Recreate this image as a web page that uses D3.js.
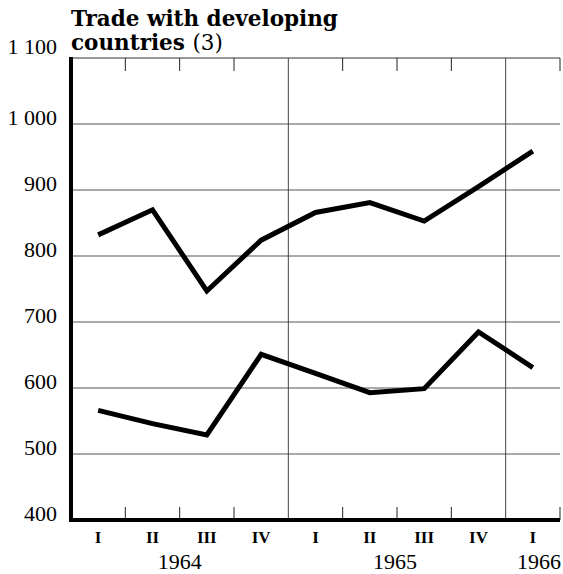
<!DOCTYPE html>
<html>
<head>
<meta charset="utf-8">
<script src="https://cdn.jsdelivr.net/npm/d3@7"></script>
<style>
  body { margin: 0; background: #fff; }
  text { font-family: "Liberation Serif", "Times New Roman", serif; fill: #000; }
</style>
</head>
<body>
<div id="chart"></div>
<script>
// quarters, 1964 I .. 1966 I
var quarterKeys = ["1964-I", "1964-II", "1964-III", "1964-IV", "1965-I", "1965-II", "1965-III", "1965-IV", "1966-I"];
var quarterLabels = ["I", "II", "III", "IV", "I", "II", "III", "IV", "I"];
var yearLabels = ["1964", "1965", "1966"];

// two series
var upperSeries = [832, 870, 747, 824, 866, 881, 853, 905, 959];
var lowerSeries = [566, 546, 529, 651, 622, 593, 599, 685, 631];

var yTicks = [400, 500, 600, 700, 800, 900, 1000, 1100];

var W = 563, H = 574;
var margin = { top: 58, right: 3, bottom: 54, left: 71 };

var svg = d3.select("#chart").append("svg")
    .attr("width", W)
    .attr("height", H);

var x = d3.scaleBand().domain(quarterKeys).range([margin.left, W - margin.right]).padding(0);
var y = d3.scaleLinear().domain([400, 1100]).range([H - margin.bottom, margin.top]);

var x0 = margin.left, x1 = W - margin.right;
var yTop = y(1100), yBot = y(400);

// horizontal grid
svg.append("g").selectAll("line")
    .data(yTicks.filter(function(d) { return d > 400 && d < 1100; }))
    .join("line")
    .attr("x1", x0).attr("x2", x1)
    .attr("y1", function(d) { return y(d); })
    .attr("y2", function(d) { return y(d); })
    .attr("stroke", "#555")
    .attr("stroke-width", 1);

// top border
svg.append("line")
    .attr("x1", x0).attr("x2", x1)
    .attr("y1", yTop).attr("y2", yTop)
    .attr("stroke", "#333").attr("stroke-width", 1);

// quarter boundaries: short ticks, full lines at year starts
var boundaries = quarterKeys.slice(1).map(function(k) { return x(k); }).concat([x1]);
var yearStarts = ["1965-I", "1966-I"].map(function(k) { return x(k); });

svg.append("g").selectAll("line")
    .data(yearStarts)
    .join("line")
    .attr("x1", function(d) { return d; }).attr("x2", function(d) { return d; })
    .attr("y1", yTop).attr("y2", yBot)
    .attr("stroke", "#444").attr("stroke-width", 1);

var shortTicks = boundaries.filter(function(b) { return yearStarts.indexOf(b) < 0; });
svg.append("g").selectAll("line")
    .data(shortTicks)
    .join("line")
    .attr("x1", function(d) { return d; }).attr("x2", function(d) { return d; })
    .attr("y1", yTop).attr("y2", yTop + 13)
    .attr("stroke", "#222").attr("stroke-width", 1);
svg.append("g").selectAll("line")
    .data(shortTicks)
    .join("line")
    .attr("x1", function(d) { return d; }).attr("x2", function(d) { return d; })
    .attr("y1", yBot).attr("y2", yBot - 13)
    .attr("stroke", "#222").attr("stroke-width", 1);

// lines
var line = d3.line()
    .x(function(d, i) { return x(quarterKeys[i]) + x.bandwidth() / 2; })
    .y(function(d) { return y(d); });

[upperSeries, lowerSeries].forEach(function(s) {
    svg.append("path")
        .attr("d", line(s))
        .attr("fill", "none")
        .attr("stroke", "#000")
        .attr("stroke-width", 5)
        .attr("stroke-linejoin", "miter");
});

// thick axes
svg.append("line")
    .attr("x1", x0).attr("x2", x0)
    .attr("y1", yTop - 1).attr("y2", yBot + 2)
    .attr("stroke", "#000").attr("stroke-width", 4);
svg.append("line")
    .attr("x1", x0 - 2).attr("x2", x1)
    .attr("y1", yBot).attr("y2", yBot)
    .attr("stroke", "#000").attr("stroke-width", 4);

// y labels
svg.append("g").selectAll("text")
    .data(yTicks)
    .join("text")
    .attr("x", 57)
    .attr("y", function(d) { return d == 1100 ? y(d) - 4 : y(d) + 1; })
    .attr("text-anchor", "end")
    .style("font-size", "22px")
    .text(function(d) { return d >= 1000 ? d3.format(",")(d).replace(",", "\u00a0") : d; });

// quarter labels
svg.append("g").selectAll("text")
    .data(quarterLabels)
    .join("text")
    .attr("x", function(d, i) { return x(quarterKeys[i]) + x.bandwidth() / 2; })
    .attr("y", 543)
    .attr("text-anchor", "middle")
    .style("font-size", "17px")
    .style("font-weight", "bold")
    .text(function(d) { return d; });

// year labels
var yearPos = [x("1964-III"), x("1965-III") - 2, x1 - 21];
svg.append("g").selectAll("text")
    .data(yearLabels)
    .join("text")
    .attr("x", function(d, i) { return yearPos[i]; })
    .attr("y", 569)
    .attr("text-anchor", "middle")
    .style("font-size", "22px")
    .text(function(d) { return d; });

// title
svg.append("text")
    .attr("x", 71)
    .attr("y", 26)
    .style("font-family", "'DejaVu Serif', serif")
    .style("font-weight", "bold")
    .style("font-size", "21.5px")
    .text("Trade with developing");
var t2 = svg.append("text")
    .attr("x", 71)
    .attr("y", 50)
    .style("font-family", "'DejaVu Serif', serif")
    .style("font-size", "21.5px");
t2.append("tspan").style("font-weight", "bold").text("countries ");
t2.append("tspan").text("(3)");
</script>
</body>
</html>
